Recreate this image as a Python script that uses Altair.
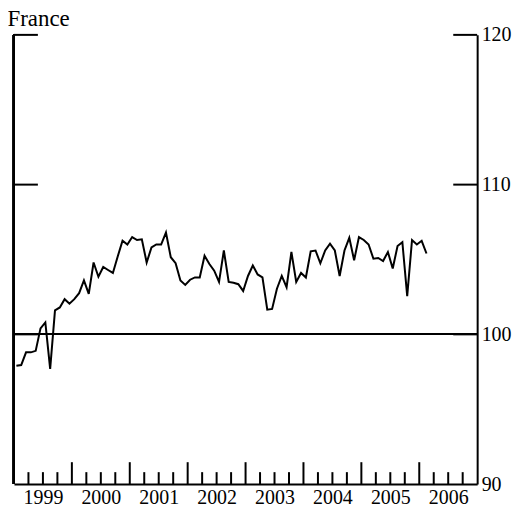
import altair as alt
import pandas as pd

# Monthly index, France, Jan 1999 - Feb 2006
index_values = [
    97.9, 97.95, 98.8, 98.8, 98.9, 100.4, 100.8, 97.7, 101.6, 101.8, 102.35, 102.05,   # 1999
    102.35, 102.75, 103.6, 102.7, 104.8, 103.85, 104.5, 104.3, 104.1, 105.2, 106.25, 106.0,  # 2000
    106.5, 106.3, 106.35, 104.8, 105.8, 106.0, 106.0, 106.8, 105.15, 104.75, 103.6, 103.3,  # 2001
    103.65, 103.8, 103.8, 105.25, 104.7, 104.25, 103.5, 105.6, 103.5, 103.45, 103.35, 102.9,  # 2002
    103.9, 104.6, 104.0, 103.8, 101.65, 101.7, 103.05, 103.9, 103.15, 105.5, 103.5, 104.1,  # 2003
    103.8, 105.55, 105.6, 104.75, 105.6, 106.05, 105.6, 103.9, 105.6, 106.45, 104.95, 106.5,  # 2004
    106.3, 106.0, 105.05, 105.1, 104.9, 105.5, 104.4, 105.9, 106.15, 102.55, 106.3, 106.0,  # 2005
    106.25, 105.4,  # 2006
]
start_year = 1999
years = list(range(1999, 2007))
y_ticks = [90, 100, 110, 120]
side_ticks = [100, 110, 120]
baseline = 100

W, H = 465, 451
FONT = "Liberation Serif"

df = pd.DataFrame({
    "t": [start_year + (i + 0.5) / 12 for i in range(len(index_values))],
    "v": index_values,
})
major = pd.DataFrame({"t": years[1:]})
minor = pd.DataFrame({"t": [y + q / 4 for y in years for q in (1, 2, 3)]})
sides = pd.DataFrame({"v": side_ticks})

xs = alt.Scale(domain=[1999, 2007], nice=False, zero=False)
ys = alt.Scale(domain=[90, 120], nice=False, zero=False)

line = alt.Chart(df).mark_line(color="black", strokeWidth=2).encode(
    x=alt.X("t:Q", scale=xs, axis=alt.Axis(
        values=[y + 0.5 for y in years], labelExpr="floor(datum.value)",
        ticks=False, domainWidth=2, domainColor="black", grid=False,
        labelFont=FONT, labelFontSize=20, labelColor="black", labelPadding=3,
        labelFlush=False, labelOverlap=False, title=None)),
    y=alt.Y("v:Q", scale=ys, axis=alt.Axis(
        orient="right", values=y_ticks, ticks=False, domainWidth=2,
        domainColor="black", grid=False, labelFont=FONT, labelFontSize=20,
        labelColor="black", labelPadding=4, labelFlush=False, title=None)),
)

ref = alt.Chart(df).mark_rule(color="black", strokeWidth=1.5).encode(
    y=alt.datum(baseline, scale=ys))

left_axis = alt.Chart(df).mark_rule(color="black", strokeWidth=2).encode(
    x=alt.value(0), y=alt.value(0), y2=alt.value(H))

major_ticks = alt.Chart(major).mark_rule(color="black", strokeWidth=2).encode(
    x=alt.X("t:Q", scale=xs), y=alt.value(H), y2=alt.value(H - 22))
minor_ticks = alt.Chart(minor).mark_rule(color="black", strokeWidth=2).encode(
    x=alt.X("t:Q", scale=xs), y=alt.value(H), y2=alt.value(H - 12))

left_ticks = alt.Chart(sides).mark_rule(color="black", strokeWidth=2).encode(
    y=alt.Y("v:Q", scale=ys), x=alt.value(0), x2=alt.value(24))
right_ticks = alt.Chart(sides).mark_rule(color="black", strokeWidth=2).encode(
    y=alt.Y("v:Q", scale=ys), x=alt.value(W - 24), x2=alt.value(W))

chart = alt.layer(
    ref, left_axis, major_ticks, minor_ticks, left_ticks, right_ticks, line
).properties(
    width=W, height=H,
    title=alt.Title("France", anchor="start", dx=-5, offset=-6, font=FONT,
                    fontSize=23, fontWeight="normal", color="black"),
    autosize=alt.AutoSizeParams(type="none"),
    padding={"left": 6, "top": 26, "right": 40, "bottom": 22},
).configure_view(stroke=None)

chart.save("out.html", embed_options={"renderer": "svg", "actions": False})
